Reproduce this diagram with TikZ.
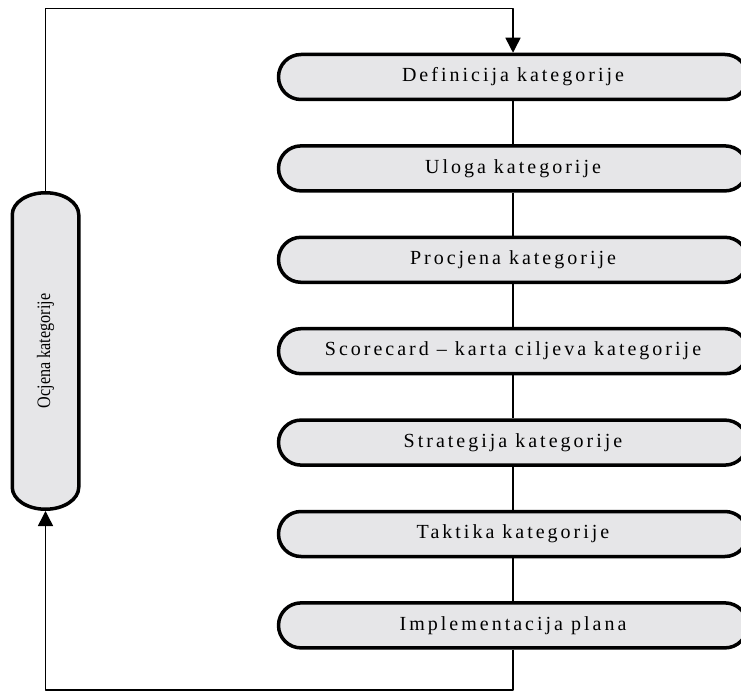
\documentclass[tikz,border=0pt]{standalone}
\usepackage{fontspec}
\setmainfont{Liberation Serif}
\usetikzlibrary{shapes.misc,arrows.meta}
\definecolor{boxgray}{RGB}{230,230,232}
\newcommand\stagefont{\fontsize{20}{24}\selectfont\addfontfeature{LetterSpace=15}}
\newcommand\reviewfont{\fontsize{19}{22}\selectfont\addfontfeature{FakeStretch=0.85}}
\tikzset{
	stage/.style={rounded rectangle, draw, line width=3.5pt, fill=boxgray, minimum width=469pt, minimum height=45pt, inner sep=0pt, font=\stagefont},
	review/.style={rectangle, minimum width=320pt, minimum height=70pt, inner sep=0pt, outer sep=0pt, rotate=90, font=\reviewfont},
	outline/.style={line width=3.5pt, fill=boxgray},
}
\begin{document}
\begin{tikzpicture}[x=1pt, y=-1pt, line width=1.5pt, line join=round, >={Triangle[length=15pt,width=15pt]}]
	\clip (0,0) rectangle (741,692);
	\foreach \t [count=\i] in {Definicija kategorije, Uloga kategorije, Procjena kategorije,
		Scorecard -- karta ciljeva kategorije, Strategija kategorije, Taktika kategorije, Implementacija plana}
		\node[stage] (s\i) at (513,{77+91.4*(\i-1)}) {\t};
	\foreach \i in {1,...,6} {
		\pgfmathtruncatemacro\j{\i+1}
		\draw (s\i.south) -- (s\j.north);
	}
	% evaluation box with flat caps
	\filldraw[outline] (12.25,214.75) arc[start angle=180, end angle=360, x radius=33.25, y radius=22]
		-- (78.75,487.25) arc[start angle=0, end angle=180, x radius=33.25, y radius=22] -- cycle;
	\node[review] (eval) at (45.5,351) {Ocjena kategorije};
	% feedback loop
	\coordinate (tl) at (45.5,8.5);
	\coordinate (tr) at (513,8.5);
	\coordinate (bl) at (45.5,690);
	\coordinate (br) at (513,690);
	\draw[->] (eval.east) -- (tl) -- (tr) -- (s1.north);
	\draw[->] (s7.south) -- (br) -- (bl) -- (eval.west);
\end{tikzpicture}
\end{document}
